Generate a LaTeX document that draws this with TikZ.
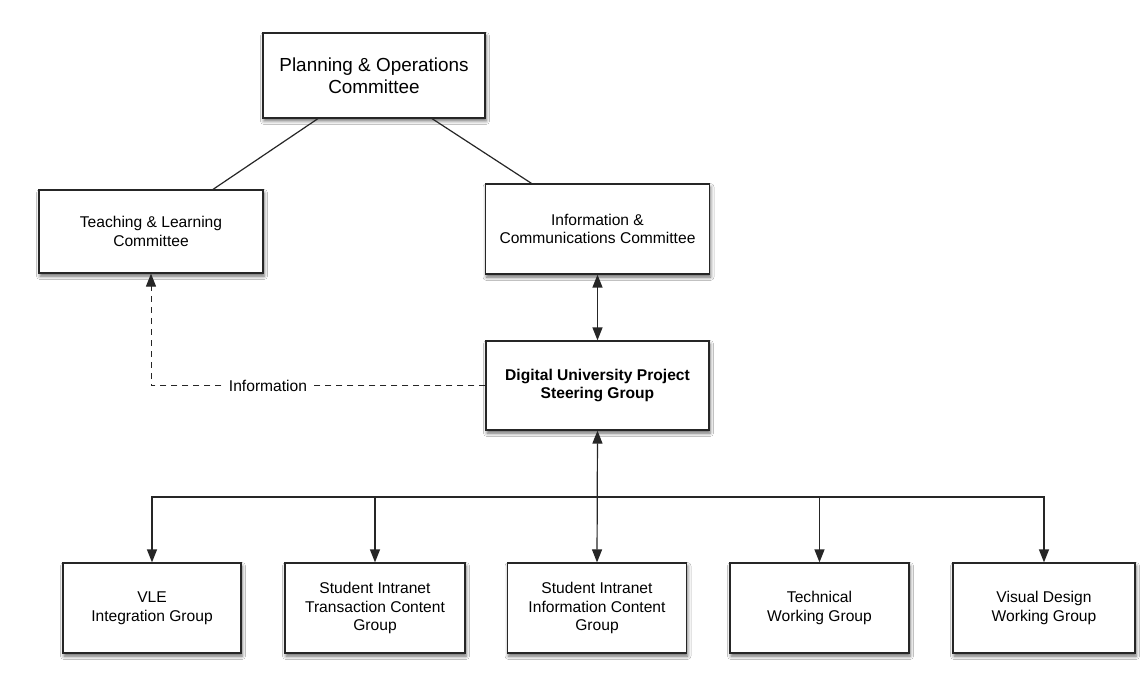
\documentclass[tikz,border=0pt]{standalone}
\usepackage{fontspec}
\setmainfont{Liberation Sans}
\usetikzlibrary{arrows.meta,calc,shadows.blur}
\begin{document}
\begin{tikzpicture}[x=1pt,y=-1pt,
  box/.style={draw=black!85,line width=1.2pt,fill=white,align=center,
    inner sep=0pt,font=\fontsize{15.6}{18.7}\selectfont,
    blur shadow={shadow xshift=1pt,shadow yshift=-3pt,shadow blur radius=3.5pt,shadow opacity=60}},
  link/.style={draw=black!85,line width=1.2pt},
  tip/.style={-{Triangle[length=13pt,width=10pt]}},
  twotip/.style={{Triangle[length=13pt,width=10pt]}-{Triangle[length=13pt,width=10pt]}}
]
\useasboundingbox (0,0) rectangle (1144,679);
\fill[white] (0,0) rectangle (1144,679);

% committees
\node[box,minimum width=222pt,minimum height=85pt,font=\fontsize{18.9}{21.7}\selectfont]
  (poc) at (374,75.5) {Planning \& Operations\\Committee};
\node[box,minimum width=224pt,minimum height=83pt] (tlc) at (151,231.5)
  {Teaching \& Learning\\Committee};
\node[box,minimum width=224pt,minimum height=90pt] (icc) at (597.5,229)
  {Information \&\\Communications Committee};
\node[box,minimum width=223pt,minimum height=89pt,font=\fontsize{15.6}{18.7}\selectfont\bfseries]
  (dup) at (597.5,385.5) {Digital University Project\\Steering Group};

% working groups
\node[box,minimum width=178pt,minimum height=90pt] (vle) at (152,608)
  {VLE\\Integration Group};
\node[box,minimum width=180pt,minimum height=90pt] (sitc) at (375,608)
  {Student Intranet\\Transaction Content\\Group};
\node[box,minimum width=179pt,minimum height=90pt] (siic) at (597,608)
  {Student Intranet\\Information Content\\Group};
\node[box,minimum width=179pt,minimum height=90pt] (twg) at (819.5,608)
  {Technical\\Working Group};
\node[box,minimum width=182pt,minimum height=90pt] (vdwg) at (1044,608)
  {Visual Design\\Working Group};

% reporting lines
\draw[link] ($(poc.south)+(-56,0)$) -- ($(tlc.north)+(62,0)$);
\draw[link] ($(poc.south)+(58,0)$) -- ($(icc.north)+(-66,0)$);
\draw[link,twotip] (icc.south) -- (dup.north);

% information flow
\draw[link,tip,dashed,dash pattern=on 6pt off 5pt,line width=1pt] (dup.west) -| (tlc.south);
\node[fill=white,inner sep=3pt,font=\fontsize{15.6}{18.7}\selectfont] (info) at (268,386) {Information};

% distribution bus
\coordinate (bus) at (597,497);
\draw[link,twotip] (dup.south) -- (siic.north);
\draw[link,tip] (bus) -| (vle.north);
\draw[link,tip] (bus) -| (sitc.north);
\draw[link,tip] (bus) -| (twg.north);
\draw[link,tip] (bus) -| (vdwg.north);
\end{tikzpicture}
\end{document}
